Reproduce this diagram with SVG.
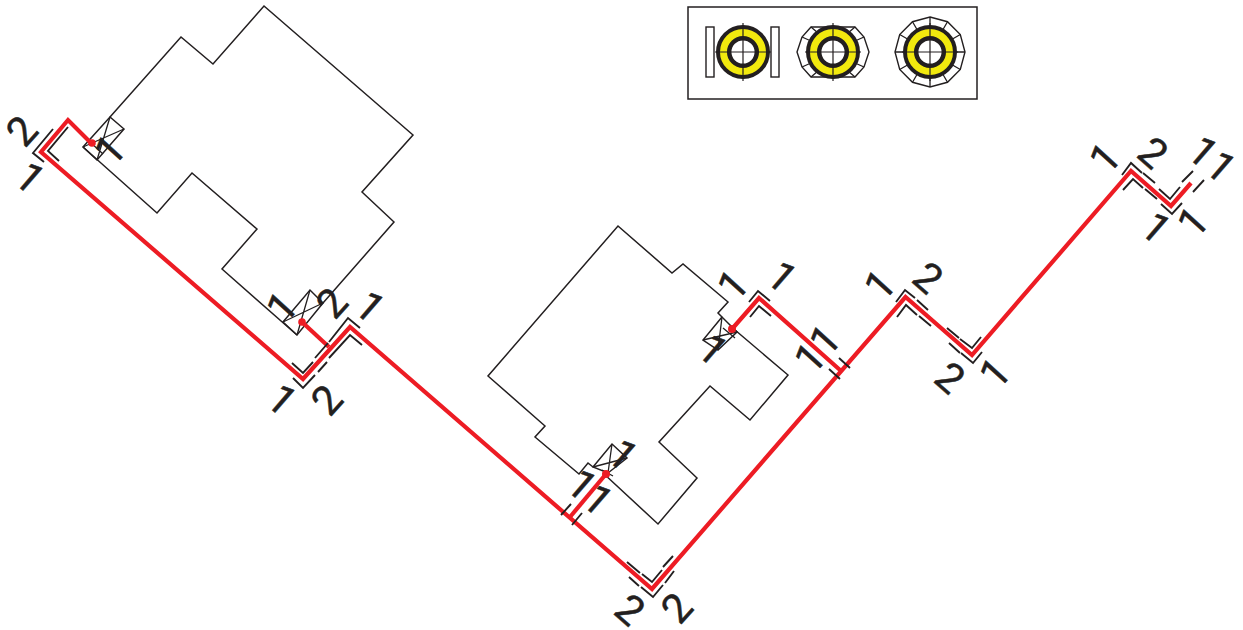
<svg xmlns="http://www.w3.org/2000/svg" xmlns:xlink="http://www.w3.org/1999/xlink" width="1243" height="630" viewBox="0 0 1243 630">
<style>
.o{fill:none;stroke:#231f20;stroke-width:1.5;stroke-linejoin:miter}
.w{fill:#fff;stroke:#231f20;stroke-width:1.4}
.t{fill:none;stroke:#231f20;stroke-width:1.9}
.v{fill:none;stroke:#231f20;stroke-width:1.3}
.p{fill:none;stroke:#ed1c24;stroke-width:4.2;stroke-linejoin:miter}
.d{fill:#ed1c24}
text{font-family:Roboto,"Open Sans",sans-serif;font-size:41px;fill:#231f20;text-anchor:middle;stroke:#231f20;stroke-width:.5}
</style>
<defs>
<g id="bearing">
<circle r="25" fill="#f2e90e" stroke="#231f20" stroke-width="4"/>
<circle r="13.8" fill="#fff" stroke="#231f20" stroke-width="4.5"/>
<path d="M-28 0H28M0-29V29" fill="none" stroke="#231f20" stroke-width="1.2"/>
</g>
<g id="spokes">
<path class="v" d="M-35 0L-26 0M35 0L26 0M0-35V-26M0 35V26M-17.5-30.3L-13-22.5M17.5-30.3L13-22.5M-17.5 30.3L-13 22.5M17.5 30.3L13 22.5M-30.3-17.5L-22.5-13M30.3-17.5L22.5-13M-30.3 17.5L-22.5 13M30.3 17.5L22.5 13"/>
</g>
</defs>
<g id="legend">
<rect x="688" y="7" width="289" height="92" class="o"/>
<g id="legend-1">
<rect x="706" y="27" width="8" height="50" class="w"/>
<rect x="771" y="27" width="8" height="50" class="w"/>
<use xlink:href="#bearing" href="#bearing" transform="translate(743 52)"/>
</g>
<g id="legend-2">
<polygon class="w" points="811,27 855,27 864,37 869,52 864,67 855,77 811,77 802,67 797,52 802,37"/>
<path class="v" d="M811 27L818 33M855 27L848 33M864 37L855 41M802 37L811 41M864 67L855 63M802 67L811 63M811 77L818 71M855 77L848 71"/>
<use xlink:href="#bearing" href="#bearing" transform="translate(833 52)"/>
</g>
<g id="legend-3">
<polygon class="w" points="930,17 947.5,21.7 960.3,34.5 965,52 960.3,69.5 947.5,82.3 930,87 912.5,82.3 899.7,69.5 895,52 899.7,34.5 912.5,21.7"/>
<use xlink:href="#spokes" href="#spokes" transform="translate(930 52)"/>
<use xlink:href="#bearing" href="#bearing" transform="translate(930 52)"/>
</g>
</g>
<g id="node-a">
<polyline class="o" points="110,117 181,37 213,64 264,6 413,135 362,192 394,222 323,303"/>
<polyline class="o" points="83,147 157,213 192,173 257,229 222,269 297,335"/>
<polygon class="o" points="83,147 97,160 124,129 110,117"/>
<path class="v" d="M83 147L124 129M97 160L110 117M89 141L103 154"/>
<polygon class="o" points="297,335 283,322 310,290 323,303"/>
<path class="v" d="M283 322L323 303M297 335L310 290"/>
</g>
<g id="node-b">
<polyline class="o" points="593,467 588,463 579,474 535,437 545,426 488,376 618,226 672,273 683,264 728,302 718,313 722,317"/>
<polyline class="o" points="735,330 788,375 750,420 710,386 659,442 697,478 658,524 603,473"/>
<polygon class="o" points="722,317 703,340 718,350 737,332"/>
<path class="v" d="M703 340L737 332M722 317L718 350M723 328L735 338"/>
<polygon class="o" points="593,467 612,444 627,458 608,473"/>
<path class="v" d="M593 467L627 458M612 444L608 473M602 470L613 476"/>
</g>
<g id="connectors">
<polyline class="p" points="91,143 68,120 41,152 303,379 350,327 652,589 905.5,297 972,355 1131,171 1171,206 1191,183"/>
<polyline class="p" points="840,370 759,298 732,329"/>
<polyline class="p" points="570,517 606,474"/>
<polyline class="p" points="329,347 302,322"/>
<circle class="d" cx="92" cy="143" r="3.8"/>
<circle class="d" cx="302" cy="322" r="3.8"/>
<circle class="d" cx="606" cy="474" r="4"/>
<circle class="d" cx="732" cy="329" r="4"/>
<path class="t" d="M53 129L33 153L44 162M68 127L48 151L59 161"/>
<path class="t" d="M292 363L303 373L313 362M315 358L328 343M329 342L348 318L360 328M293 378L303 388L315 375M318 372L327 362M329 358L350 335L362 345"/>
<path class="t" d="M561 515L571 504M572 525L582 513"/>
<path class="t" d="M627 562L640 573M642 574L652 582L662 570M663 567L673 556M629 577L639 586M641 587L653 597L663 585M665 583L674 571"/>
<path class="t" d="M749 302L758 291L770 301M750 317L759 306L771 316M839 358L850 368M829 369L840 379"/>
<path class="t" d="M896 302L905 290L915 298M917 300L928 310M897 317L906 305L917 315M919 316L931 326"/>
<path class="t" d="M947 328L959 338M960 339L972 348L981 337M949 343L960 353M961 353L973 363L982 352"/>
<path class="t" d="M1122 175L1131 163L1142 173M1143 173L1155 183M1123 190L1133 179L1143 188M1145 189L1157 199"/>
<path class="t" d="M1159 189L1170 199L1180 187M1182 182L1193 171M1161 204L1172 214L1182 203M1193 192L1204 180"/>
</g>
<g id="labels">
<text transform="translate(22 131) rotate(-48)" y="14">2</text>
<text transform="translate(30 178) rotate(41)" y="14">1</text>
<text transform="translate(110 150) rotate(-48)" y="14">1</text>
<text transform="translate(282 307) rotate(-48)" y="14">1</text>
<text transform="translate(332 303) rotate(-48)" y="14">2</text>
<text transform="translate(370 307) rotate(41)" y="14">1</text>
<text transform="translate(282 400) rotate(41)" y="14">1</text>
<text transform="translate(327 400) rotate(-48)" y="14">2</text>
<text transform="translate(582 485) rotate(41)" y="14">1</text>
<text transform="translate(598 500) rotate(41)" y="14">1</text>
<text transform="translate(623 455) rotate(41)" y="14">1</text>
<text transform="translate(630 610) rotate(41)" y="14">2</text>
<text transform="translate(677 608) rotate(-48)" y="14">2</text>
<text transform="translate(733 285) rotate(-48)" y="14">1</text>
<text transform="translate(782 277) rotate(41)" y="14">1</text>
<text transform="translate(825 340) rotate(-48)" y="14">1</text>
<text transform="translate(810 358) rotate(-48)" y="14">1</text>
<text transform="translate(713 350) rotate(41)" y="14">1</text>
<text transform="translate(880 285) rotate(-48)" y="14">1</text>
<text transform="translate(928 278) rotate(41)" y="14">2</text>
<text transform="translate(950 378) rotate(41)" y="14">2</text>
<text transform="translate(995 373) rotate(-48)" y="14">1</text>
<text transform="translate(1105 158) rotate(-48)" y="14">1</text>
<text transform="translate(1153 153) rotate(41)" y="14">2</text>
<text transform="translate(1203 152) rotate(41)" y="14">1</text>
<text transform="translate(1221 167) rotate(41)" y="14">1</text>
<text transform="translate(1156 228) rotate(41)" y="14">1</text>
<text transform="translate(1193 222) rotate(-48)" y="14">1</text>
</g>
</svg>
